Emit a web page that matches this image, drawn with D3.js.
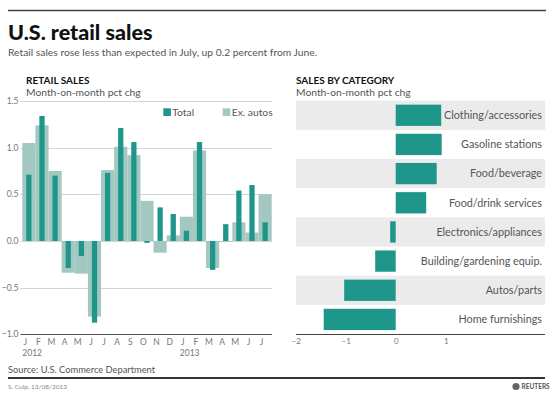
<!DOCTYPE html>
<html><head><meta charset="utf-8">
<script src="https://cdn.jsdelivr.net/npm/d3@7"></script>
<style>
html,body{margin:0;padding:0;background:#fff;}
svg{display:block;font-family:Lato,"Open Sans",sans-serif;}
</style></head>
<body><svg id="c" width="554" height="394"></svg>
<script>
// ---- data ----
const months = ["J","F","M","A","M","J","J","A","S","O","N","D","J","F","M","A","M","J","J"];
const years = [{i:0,label:"2012"},{i:12,label:"2013"}];
const total   = [0.71,1.34,0.70,-0.29,-0.16,-0.875,0.73,1.21,1.06,-0.02,0.36,0.29,0.11,1.06,-0.31,0.18,0.54,0.60,0.20];
const exAutos = [1.05,1.24,0.75,-0.34,-0.35,-0.81,0.76,1.01,0.92,0.43,-0.125,0.06,0.26,0.97,-0.29,-0.01,0.20,0.09,0.50];
const leftTicks = [-1.0,-0.5,0.0,0.5,1.0,1.5];
const categories = ["Clothing/accessories","Gasoline stations","Food/beverage","Food/drink services","Electronics/appliances","Building/gardening equip.","Autos/parts","Home furnishings"];
const catValues = [0.91,0.92,0.82,0.61,-0.11,-0.41,-1.03,-1.44];
const rightTicks = [-2,-1,0,1];

const TEAL = "#1f968a", LIGHT = "#a3c8c2", BAND = "#ebebeb";
const svg = d3.select("#c");

// ---- header ----
svg.append("line").attr("x1",8).attr("x2",546).attr("y1",10.5).attr("y2",10.5).attr("stroke","#444").attr("stroke-width",1.5);
svg.append("text").attr("x",8).attr("y",40).attr("font-size",21.5).attr("font-weight",900).attr("fill","#111").text("U.S. retail sales");
svg.append("text").attr("x",8).attr("y",56).attr("font-size",10.3).attr("fill","#555").text("Retail sales rose less than expected in July, up 0.2 percent from June.");

// ---- left chart ----
const idx = d3.range(months.length);
const x = d3.scaleBand().domain(idx).range([22.3, 271.7]).padding(0);
const y = d3.scaleLinear().domain([-1, 1.5]).range([334.3, 101]);

svg.append("text").attr("x",26).attr("y",84).attr("font-size",10).attr("font-weight",700).attr("fill","#111").text("RETAIL SALES");
svg.append("text").attr("x",26).attr("y",96).attr("font-size",10.3).attr("fill","#555").text("Month-on-month pct chg");

const gl = svg.append("g");
gl.selectAll("line").data(leftTicks).join("line")
  .attr("x1",20.5).attr("x2",272).attr("y1",d=>Math.round(y(d))+0.5).attr("y2",d=>Math.round(y(d))+0.5)
  .attr("stroke",d=>d===-1?"#555":"#d4d4d4").attr("stroke-width",1);
gl.selectAll("text").data(leftTicks).join("text")
  .attr("x",18.5).attr("y",d=>y(d)).attr("dy","0.35em").attr("text-anchor","end")
  .attr("font-size",8.5).attr("fill","#777").text(d3.format(".1f"));

svg.append("g").selectAll("rect").data(idx).join("rect")
  .attr("x",i=>x(i)).attr("width",x.bandwidth())
  .attr("y",i=>y(Math.max(0,exAutos[i]))).attr("height",i=>Math.abs(y(exAutos[i])-y(0)))
  .attr("fill",LIGHT);
const tw = x.bandwidth()*0.4;
svg.append("g").selectAll("rect").data(idx).join("rect")
  .attr("x",i=>x(i)+x.bandwidth()/2-tw/2).attr("width",tw)
  .attr("y",i=>y(Math.max(0,total[i]))).attr("height",i=>Math.abs(y(total[i])-y(0)))
  .attr("fill",TEAL);

svg.append("g").selectAll("text").data(idx).join("text")
  .attr("x",i=>x(i)+3).attr("y",345).attr("text-anchor","middle")
  .attr("font-size",8.5).attr("fill","#777").text(i=>months[i]);
svg.append("g").selectAll("text").data(years).join("text")
  .attr("x",d=>x(d.i)).attr("y",356).attr("font-size",8.5).attr("fill","#777").text(d=>d.label);

// legend
const leg = [{c:TEAL,t:"Total",x:163.3},{c:LIGHT,t:"Ex. autos",x:222.7}];
const lg = svg.append("g").selectAll("g").data(leg).join("g");
lg.append("rect").attr("x",d=>d.x).attr("y",108.3).attr("width",7.6).attr("height",7.7).attr("fill",d=>d.c);
lg.append("text").attr("x",d=>d.x+9).attr("y",116).attr("font-size",10.3).attr("fill","#555").text(d=>d.t);

// ---- right chart ----
const xr = d3.scaleLinear().domain([-2,3]).range([295.7, 545.7]);
const yr = d3.scaleBand().domain(categories).range([100.7, 334]).padding(0);

svg.append("text").attr("x",296).attr("y",84).attr("font-size",10).attr("font-weight",700).attr("fill","#111").text("SALES BY CATEGORY");
svg.append("text").attr("x",296).attr("y",96).attr("font-size",10.3).attr("fill","#555").text("Month-on-month pct chg");

svg.append("g").selectAll("rect").data(categories.filter((c,i)=>i%2===0)).join("rect")
  .attr("x",296).attr("width",249).attr("y",c=>yr(c)).attr("height",yr.bandwidth()).attr("fill",BAND);

const st = yr.step();
svg.append("g").selectAll("rect").data(categories).join("rect")
  .attr("x",(c,i)=>xr(Math.min(0,catValues[i]))).attr("width",(c,i)=>Math.abs(xr(catValues[i])-xr(0)))
  .attr("y",c=>yr(c)+st*0.135).attr("height",st*0.73).attr("fill",TEAL);

svg.append("g").selectAll("text").data(categories).join("text")
  .attr("x",542).attr("y",c=>yr(c)+st/2).attr("dy","0.35em").attr("text-anchor","end")
  .attr("font-size",10.8).attr("fill","#555").text(c=>c);

const ax = svg.append("g").attr("transform","translate(0,334)")
  .call(d3.axisBottom(xr).tickValues(rightTicks).tickSize(0).tickPadding(4).tickFormat(d3.format("d")));
ax.select(".domain").attr("d","M296,0.5H545").attr("stroke","#444").attr("stroke-width",1.2);
ax.selectAll("text").attr("font-size",8).attr("fill","#777").attr("font-family","Lato,sans-serif");

// ---- footer ----
svg.append("text").attr("x",8).attr("y",373).attr("font-size",9.3).attr("fill","#555").text("Source: U.S. Commerce Department");
svg.append("line").attr("x1",8).attr("x2",545).attr("y1",378).attr("y2",378).attr("stroke","#333").attr("stroke-width",1.8);
svg.append("text").attr("x",8).attr("y",389).attr("font-size",6.5).attr("fill","#888").text("S. Culp, 13/08/2013");
svg.append("circle").attr("cx",516).attr("cy",386.5).attr("r",3.6).attr("fill","#666");
svg.append("text").attr("x",521.5).attr("y",389).attr("font-size",6.5).attr("font-weight",700).attr("fill","#555").text("REUTERS");
</script></body></html>
